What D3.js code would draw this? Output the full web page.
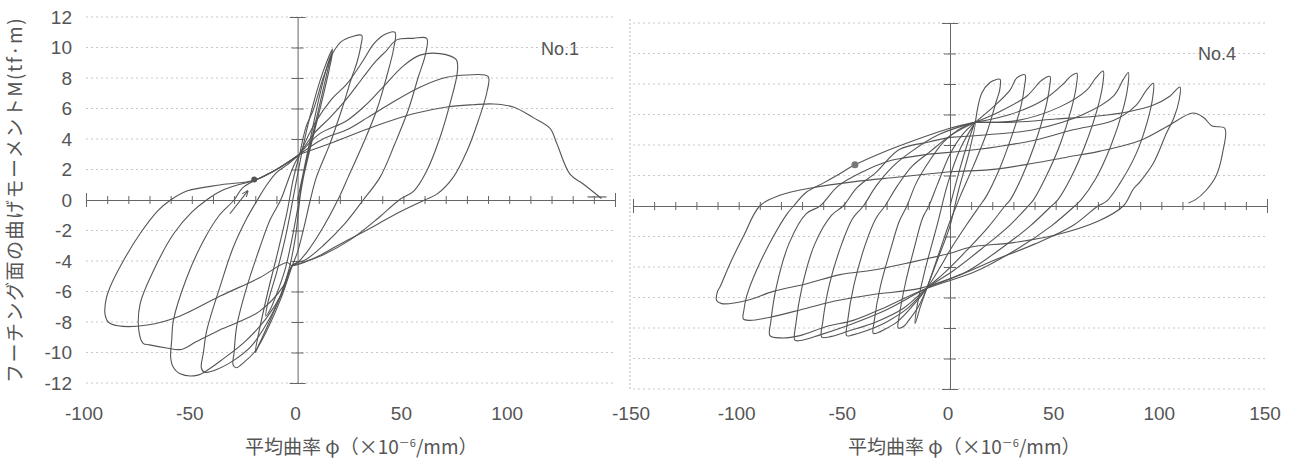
<!DOCTYPE html>
<meta charset="utf-8">
<style>
body { margin: 0; background: #fff; }
text { font-family: "Liberation Sans", Arial, sans-serif; fill: #555; }
.jp { font-family: "Noto Sans CJK JP", sans-serif; }
.grid line { stroke: #c8c8c8; stroke-dasharray: 2,3; }
.axis path, .axis line { stroke: #666; }
.curve { fill: none; stroke: #555; stroke-width: 1.1; stroke-linejoin: round; }
</style>
<body>
<script src="https://cdn.jsdelivr.net/npm/d3@7"></script>
<script>

var yTicks = [12, 10, 8, 6, 4, 2, 0, -2, -4, -6, -8, -10, -12];
var leftXLabels = [-100, -50, 0, 50, 100];
var rightXLabels = [-150, -100, -50, 0, 50, 100, 150];

// No.1  [phi, M]
var no1Cycle0 = [[0,0],[3,2],[6,4],[10,6.6],[14,8.8],[16.5,9.7],[15,8.6],[11,6.2],[6,3.4],[2,1],[0,-0.6],[-3,-2.8],[-6,-4.6],[-10,-6.2],[-13,-7.2],[-15,-7.6],[-14,-6.7],[-10,-4.8],[-6,-2.6],[-2,0.2],[1,2.4],[4,4.4],[8,6.6],[12,8.4],[16.5,9.9],[14.5,8.7],[10,6],[5,3],[1.5,0.5],[-1,-2.4],[-4,-4.5],[-9,-6.6],[-14,-8.2],[-18,-9.4],[-20,-10],[-18.5,-8.8],[-14,-6],[-9,-3.2],[-5,-0.8],[-2,1.4],[1,3]];
var no1Cycle1 = [[1,3],[4,4.8],[7.4,5.9],[12.2,8.05],[16.9,9.7],[20.8,10.4],[25.6,10.7],[30.3,10.8],[30,10.2],[28,9],[25.6,8.05],[20.8,5.9],[15.3,3.7],[8.9,1.5],[6,0],[3,-1.8],[0,-3.4],[-2.5,-4.3],[-8,-6.5],[-14,-8.4],[-20,-9.9],[-25,-10.6],[-29,-11],[-30.5,-10.8],[-30,-10],[-28.8,-8.3],[-24,-5.7],[-17.8,-3.1],[-13,-1.3],[-8,0],[-5,1.1],[-2,2.2],[1,3]];
var no1Cycle2 = [[1,3],[8,5],[16,6.6],[23.2,7.6],[31,9.15],[35.8,10.2],[40.5,10.8],[46,11],[45.5,10],[42,8.05],[37.4,5.9],[31,3.7],[23.9,1.5],[19,0],[12,-1.8],[5,-3.3],[0,-4.1],[-2.5,-4.3],[-8,-6.3],[-15,-8.2],[-22,-9.6],[-30,-10.5],[-38,-11.1],[-44,-11.3],[-45.5,-11],[-44.5,-10],[-43,-8.6],[-36.7,-5.7],[-30.4,-3.1],[-24,-1.2],[-19,0],[-15,0.9],[-10,1.8],[-5,2.3],[1,3]];
var no1Cycle3 = [[1,3],[8,4.4],[15.3,5.4],[23,6.6],[31,8.05],[37,9.1],[42,9.8],[46.8,10.5],[54.7,10.6],[61,10.6],[60.5,9.6],[57,8.05],[52.3,5.9],[46,3.7],[39,1.5],[31,0],[22,-1.6],[12,-3],[4,-3.9],[-2.5,-4.3],[-7,-6],[-15,-7.8],[-25,-9.3],[-35,-10.4],[-42,-11.1],[-47.6,-11.5],[-55.5,-11.4],[-59,-10.9],[-60,-10.3],[-59.5,-9.2],[-58.7,-7.9],[-52.4,-5.1],[-44.6,-2.7],[-37,-1],[-30,0],[-26,0.8],[-20,1.3],[-10,2],[1,3]];
var no1Cycle4 = [[1,3],[10,4.3],[23.2,5.2],[32,6.2],[39,7.2],[50,8.8],[57.8,9.5],[67.3,9.6],[75,9.2],[75.5,8.4],[72,6.3],[67.3,4.1],[61,1.9],[55,0.6],[48,0],[38,-1.2],[25,-2.6],[12,-3.6],[0,-4.2],[-2.5,-4.3],[-7,-5.7],[-18,-7.3],[-28,-8],[-38,-8.6],[-48,-9.3],[-55,-9.8],[-62,-9.7],[-70,-9.5],[-73,-9.4],[-75,-8.6],[-74.4,-6.8],[-68,-4.6],[-58.5,-2.2],[-50,-0.8],[-43,0],[-36,0.6],[-28,1],[-20,1.3],[-10,2],[1,3]];
var no1Cycle5 = [[1,3],[12,4],[23.2,4.6],[33,5.4],[43.6,6.3],[57.8,7.4],[70.5,8.05],[80,8.2],[90,8.1],[89.5,7.1],[85.4,5.2],[80,3.2],[73.6,1.5],[66,0.4],[60,0],[48,-0.8],[35,-1.8],[20,-2.9],[8,-3.8],[-2.5,-4.3],[-5,-4.1],[-18,-5.1],[-36.6,-6.3],[-55.5,-7.6],[-71,-8.2],[-85,-8.25],[-89.5,-8],[-91,-7.5],[-90.5,-6.5],[-88.6,-5.7],[-82.4,-4],[-74.4,-2.2],[-66,-0.7],[-60,0],[-52,0.6],[-36,1],[-20.5,1.3],[-10,2],[1,3]];
var no1Final = [[1,3],[15.3,3.7],[35.8,4.8],[54.7,5.65],[70.5,6.1],[83,6.25],[92.5,6.3],[102,6.1],[111.4,5.4],[119.3,4.7],[122.5,3.7],[128.7,1.7],[135,1.05],[143.6,0.1]];
var no1EndMark = [[137,0.2],[146,0.2]];
var no1Arrow = [[-32,-0.9],[-23.5,0.6]];
var no1Dot = [-20.5, 1.35];

// No.4  [phi, M]
var no4Cycle0 = [[0,0],[5,2.6],[10,4.8],[12,5.5],[9,3.5],[4,1],[0,-1.3],[-5,-3.2],[-11,-5.4],[-14,-6.6],[-16.5,-7.7],[-15.5,-6.5],[-12,-4.3],[-6,-1.2],[-1,1.5],[5,3.8],[12,5.5]];
var no4Cycle1 = [[12,5.5],[15,7.4],[18.9,8.1],[22,8.3],[23.7,8.3],[23.5,7.6],[22.1,6.95],[17.4,4.8],[11,2.6],[4.7,0.6],[3,0],[0,-1],[-5,-3],[-11,-5.4],[-15,-6.6],[-19,-7.4],[-22,-7.9],[-24.5,-8],[-24,-7.2],[-21,-5],[-17,-2.8],[-13,-0.8],[-10,0],[-6,1.4],[0,3.4],[6,4.7],[12,5.5]];
var no4Cycle2 = [[12,5.5],[20.5,6.5],[28.4,7.6],[31.6,8.4],[35.5,8.6],[35.2,7.8],[33.5,6.5],[29,4.5],[23,2.3],[17,0.6],[14,0],[8,-1.2],[0,-2.9],[-5,-4.1],[-11,-5.4],[-18,-6.6],[-25,-7.6],[-31,-8.1],[-34,-8.3],[-36.3,-8.35],[-35.8,-7.5],[-33,-5.3],[-28,-2.8],[-24,-1],[-20.4,0],[-16,1.5],[-10,2.9],[-3,4.2],[4,5],[12,5.5]];
var no4Cycle3 = [[12,5.5],[23.7,6.2],[36.3,7.2],[42.6,8.15],[45,8.4],[47.3,8.5],[47,7.7],[45,6.3],[40,4],[34,1.9],[28.5,0.4],[26,0],[18,-1.4],[8,-2.9],[-2,-4.3],[-11,-5.4],[-20,-6.7],[-30,-7.6],[-40,-8.2],[-46,-8.45],[-48.9,-8.5],[-48.5,-7.6],[-45.5,-5.2],[-40,-2.5],[-35,-0.8],[-30.8,0],[-25,1.3],[-18,2.6],[-10,3.5],[0,4.6],[12,5.5]];
var no4Cycle4 = [[12,5.5],[28.4,6],[44.2,6.95],[53.6,8],[57,8.5],[60,8.7],[59.8,7.9],[57.5,6.4],[52,4],[45,1.8],[39.5,0.4],[37,0],[28,-1.3],[15,-2.8],[2,-4.2],[-11,-5.4],[-22,-6.7],[-35,-7.6],[-48,-8.2],[-56,-8.55],[-60.7,-8.6],[-60.2,-7.6],[-57,-5.1],[-51,-2.4],[-46,-0.8],[-41,0],[-35,1.3],[-27,2.6],[-18,3.6],[-5,4.7],[12,5.5]];
var no4Cycle5 = [[12,5.5],[31.6,5.6],[52,6.5],[64.7,7.6],[69,8.4],[72.5,8.85],[72.3,8],[70,6.5],[64,4],[57,1.8],[51,0.4],[48,0],[38,-1.3],[24,-2.8],[8,-4.3],[-11,-5.4],[-30,-6.8],[-45.8,-7.7],[-61.5,-8.45],[-70,-8.8],[-73.4,-8.8],[-73,-7.8],[-70,-5.3],[-64,-2.5],[-56,-0.6],[-50.6,0],[-44,1.2],[-35,2.2],[-24,3.7],[-10,4.2],[0,4.5]];
var no4Cycle6 = [[0,4.5],[20,4.7],[39.4,5],[63,6],[77.3,7.2],[82,8.3],[84.4,8.75],[84.2,7.9],[82,6.4],[76,3.9],[69,1.8],[62,0.4],[59,0],[48,-1.3],[32,-2.8],[12,-4.3],[-11,-5.4],[-30,-6.6],[-45.8,-7.5],[-58.4,-7.9],[-71,-8.5],[-80,-8.65],[-85.2,-8.5],[-84.8,-7.6],[-82,-5.2],[-76,-2.4],[-68,-0.5],[-61.5,0],[-53,1.3],[-42,2.2],[-30,2.9],[-24,3.1],[-10,3.4]];
var no4Cycle7 = [[-10,3.4],[12.6,3.7],[39.4,4.3],[58.3,5],[77.3,5.6],[88,6.6],[93,7.6],[96.2,8.05],[96,7.2],[93.5,5.6],[88,3.4],[80,1.4],[74,0.3],[70,0],[58,-1.3],[40,-2.5],[20,-3.6],[5,-4.5],[-14.2,-5.4],[-36.3,-5.8],[-53.2,-6.2],[-67.8,-6.7],[-85.2,-7.3],[-95,-7.5],[-97.8,-7.4],[-97.5,-6.8],[-96.2,-5.9],[-91.5,-4.2],[-83.6,-2],[-77,-0.5],[-74,0],[-68,0.9],[-60,1.5],[-53.6,2],[-45,2.7],[-33,3.45],[-19,4.2],[0,5.1],[12,5.5]];
var no4Cycle8 = [[12,5.5],[30,5.5],[50,5.7],[70,5.9],[85,6.2],[96,6.6],[104,7.2],[108.8,7.8],[108.5,7],[106,5.8],[102.5,4.8],[96.2,2.8],[90,1.6],[86.7,1.1],[82,0],[70,-1],[50,-1.9],[30,-2.4],[9.5,-2.7],[0,-3.1],[-20.5,-3.75],[-36.3,-4.2],[-52,-4.5],[-67.8,-5.1],[-83.6,-5.6],[-96.2,-6.2],[-108,-6.4],[-110.4,-6.2],[-110,-5.6],[-108.8,-5.3],[-104,-3.75],[-97.8,-2],[-90,0],[-80.5,0.7],[-65,1.2],[-45,1.6],[-24,1.9],[0,2.25]];
var no4Final = [[0,2.25],[20.5,2.4],[39.4,2.8],[55.2,3.2],[71,3.6],[90,4.3],[102.5,5.2],[115,6.1],[120,5.8],[124,5.25],[130,5.1],[129,3.5],[126,2],[121,1],[116,0.4],[112.8,0.2]];
var no4Dot = [-45, 2.7];

var width = 1292, height = 461;

var svg = d3.select("body").append("svg")
    .attr("width", width)
    .attr("height", height);

svg.append("defs").append("marker")
    .attr("id", "arr")
    .attr("viewBox", "0 0 10 10")
    .attr("refX", 9).attr("refY", 5)
    .attr("markerWidth", 6).attr("markerHeight", 6)
    .attr("orient", "auto")
  .append("path")
    .attr("d", "M0,1L10,5L0,9")
    .attr("fill", "none")
    .attr("stroke", "#555")
    .attr("stroke-width", 1.5);

function panel(xDomain, xRange, yRange, cycles) {
  var x = d3.scaleLinear().domain(xDomain).range(xRange);
  var y = d3.scaleLinear().domain([-12, 12]).range(yRange);
  var g = svg.append("g");

  // dotted grid
  g.append("g").attr("class", "grid")
    .selectAll("line")
    .data(yTicks.filter(function(d) { return d !== 0; }))
    .enter().append("line")
      .attr("x1", xRange[0]).attr("x2", xRange[1])
      .attr("y1", function(d) { return y(d); })
      .attr("y2", function(d) { return y(d); });

  // horizontal axis through zero
  var minor = d3.range(xDomain[0], xDomain[1] + 1, 10);
  var ax = g.append("g").attr("class", "axis")
      .attr("transform", "translate(0," + y(0) + ")")
      .call(d3.axisBottom(x).tickValues(minor).tickSize(4).tickSizeOuter(0).tickFormat(""));
  ax.selectAll(".tick line").attr("y1", -4);
  ax.selectAll(".tick").filter(function(d) { return d === xDomain[0] || d === xDomain[1]; })
    .select("line").attr("y1", -7).attr("y2", 7);

  // vertical axis through zero
  var ay = g.append("g").attr("class", "axis")
      .attr("transform", "translate(" + x(0) + ",0)")
      .call(d3.axisLeft(y).tickValues(yTicks).tickSize(6).tickSizeOuter(0).tickFormat(""));
  ay.selectAll(".tick line").attr("x1", 6);
  ay.selectAll(".tick").filter(function(d) { return Math.abs(d) === 12; })
    .select("line").attr("x1", 8).attr("x2", -8);

  var line = d3.line()
      .curve(d3.curveCatmullRom.alpha(0.5))
      .x(function(d) { return x(d[0]); })
      .y(function(d) { return y(d[1]); });

  g.append("g").selectAll("path")
    .data(cycles)
    .enter().append("path")
      .attr("class", "curve")
      .attr("d", line);

  return { x: x, y: y, g: g, line: line };
}

var left = panel([-100, 150], [86, 615], [383, 17],
  [no1Cycle0, no1Cycle1, no1Cycle2, no1Cycle3, no1Cycle4, no1Cycle5, no1Final, no1EndMark]);
var right = panel([-150, 150], [633, 1267], [389, 23],
  [no4Cycle0, no4Cycle1, no4Cycle2, no4Cycle3, no4Cycle4, no4Cycle5, no4Cycle6, no4Cycle7, no4Cycle8, no4Final]);

// right panel dotted left border
right.g.insert("line", ":first-child")
    .attr("x1", 630).attr("x2", 630)
    .attr("y1", right.y(12) - 4).attr("y2", right.y(-12))
    .attr("stroke", "#bbb").attr("stroke-dasharray", "2,2");

// arrow and marker dots
left.g.append("path")
    .attr("class", "curve")
    .attr("d", left.line(no1Arrow))
    .attr("marker-end", "url(#arr)");
left.g.append("circle")
    .attr("cx", left.x(no1Dot[0])).attr("cy", left.y(no1Dot[1]))
    .attr("r", 3).attr("fill", "#555");
right.g.append("circle")
    .attr("cx", right.x(no4Dot[0])).attr("cy", right.y(no4Dot[1]))
    .attr("r", 3.5).attr("fill", "#777");

// y tick labels (left side only)
svg.append("g").selectAll("text")
  .data(yTicks)
  .enter().append("text")
    .attr("x", 72)
    .attr("y", function(d) { return left.y(d); })
    .attr("dy", "0.36em")
    .attr("text-anchor", "end")
    .style("font-size", "19px")
    .text(function(d) { return d; });

// x tick labels
function xLabels(p, vals) {
  svg.append("g").selectAll("text")
    .data(vals)
    .enter().append("text")
      .attr("x", function(d) { return p.x(d) - 2; })
      .attr("y", 420)
      .attr("text-anchor", "middle")
      .style("font-size", "19px")
      .text(function(d) { return d; });
}
xLabels(left, leftXLabels);
xLabels(right, rightXLabels);

// panel names
svg.append("text").attr("x", 541).attr("y", 55).style("font-size", "18px").text("No.1");
svg.append("text").attr("x", 1198).attr("y", 60).style("font-size", "18px").text("No.4");

// axis titles
function xTitle(x0) {
  var t = svg.append("text").attr("class", "jp")
      .attr("x", x0).attr("y", 454)
      .style("font-size", "19px");
  t.append("tspan").text("平均曲率 φ（×10");
  t.append("tspan").attr("dy", -7).style("font-size", "11px").text("－6");
  t.append("tspan").attr("dy", 7).text("/mm）");
}
xTitle(245);
xTitle(848);

svg.append("text").attr("class", "jp")
    .attr("transform", "translate(22,200) rotate(-90)")
    .attr("text-anchor", "middle")
    .style("font-size", "19px")
    .style("letter-spacing", "1.5px")
    .text("フーチング面の曲げモーメントM(tf·m)");

</script>
